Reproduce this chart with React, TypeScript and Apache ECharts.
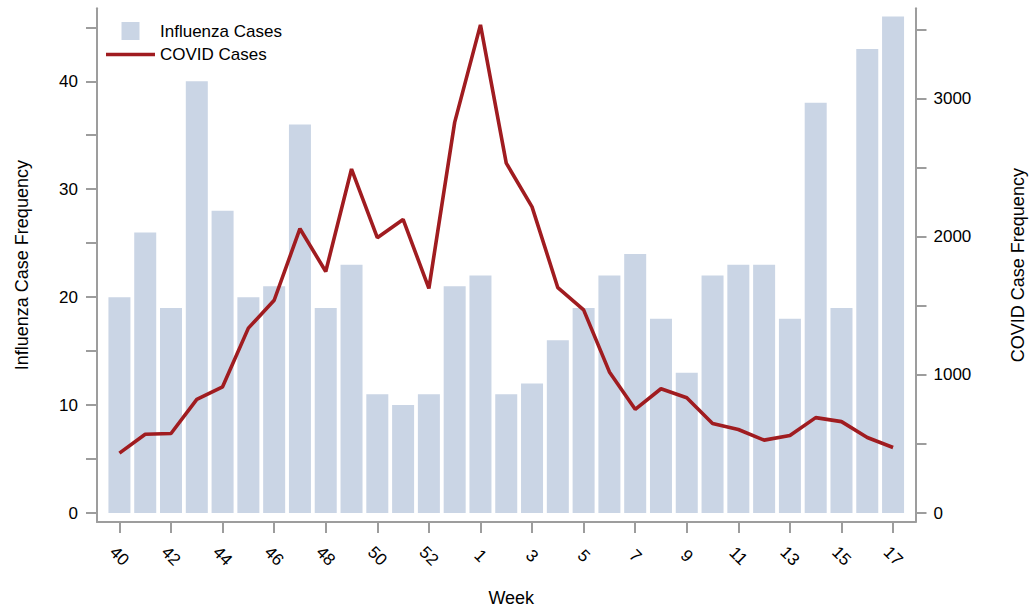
import React, { useEffect, useRef } from 'react';
import * as echarts from 'echarts';

// weekly counts, flu season week 40 .. week 17
const weeks = [
  '40', '41', '42', '43', '44', '45', '46', '47', '48', '49', '50', '51', '52', '53',
  '1', '2', '3', '4', '5', '6', '7', '8', '9', '10', '11', '12', '13', '14', '15', '16', '17',
];
const fluCases = [
  20, 26, 19, 40, 28, 20, 21, 36, 19, 23, 11, 10, 11, 21,
  22, 11, 12, 16, 19, 22, 24, 18, 13, 22, 23, 23, 18, 38, 19, 43, 46,
];
const covidCases = [
  434, 571, 576, 823, 914, 1339, 1541, 2059, 1749, 2491, 1994, 2126, 1627, 2829,
  3535, 2534, 2217, 1632, 1471, 1022, 751, 900, 835, 648, 605, 528, 562, 691, 662, 547, 475,
];

const weekTicks = ['40', '42', '44', '46', '48', '50', '52', '1', '3', '5', '7', '9', '11', '13', '15', '17'];
const fluTicks = [0, 5, 10, 15, 20, 25, 30, 35, 40, 45];
const fluLabels = [0, 10, 20, 30, 40];
const covidTicks = [0, 500, 1000, 1500, 2000, 2500, 3000, 3500];
const covidLabels = [0, 1000, 2000, 3000];

const FONT = "'Liberation Sans Narrow', 'Arial Narrow', 'Liberation Sans', Arial, sans-serif";
const AXIS_GRAY = '#9d9d9d';
const COVID_RED = '#a01c20';

const App: React.FC = () => {
  const chartRef = useRef<HTMLDivElement>(null);

  useEffect(() => {
    if (!chartRef.current) return;
    const chart = echarts.init(chartRef.current, null, { renderer: 'svg' });

    const tickIdx = weekTicks.map((w) => weeks.indexOf(w));

    const axisLine = { show: true, onZero: false, lineStyle: { color: AXIS_GRAY, width: 2 } };
    const axisTick = (values: number[]) => ({
      show: true,
      length: 11,
      customValues: values,
      lineStyle: { color: AXIS_GRAY, width: 2 },
    });
    const labelText = { fontFamily: FONT, fontSize: 17, color: '#000' };
    const nameText = { fontFamily: FONT, fontSize: 18, color: '#000' };

    const option = {
      animation: false,
      textStyle: { fontFamily: FONT },
      grid: { left: 97, right: 119.5, top: 8.3, bottom: 87 },
      legend: {
        orient: 'vertical',
        left: 101,
        top: 17,
        itemWidth: 49,
        itemHeight: 18,
        itemGap: 6,
        textStyle: { ...labelText },
        data: [
          { name: 'Influenza Cases', icon: 'path://M0,0H10V10H0Z' },
          { name: 'COVID Cases', icon: 'path://M0,0H49V3.6H0Z' },
        ],
      },
      xAxis: {
        type: 'value',
        min: -0.87,
        max: weeks.length - 1 + 0.87,
        name: 'Week',
        nameLocation: 'middle',
        nameGap: 67,
        nameTextStyle: { ...nameText, padding: [0, 0, 0, 10] },
        axisLine,
        axisTick: axisTick(tickIdx),
        splitLine: { show: false },
        axisLabel: {
          customValues: tickIdx,
          formatter: (v: number) => weeks[Math.round(v)],
          rotate: -45,
          align: 'center',
          verticalAlign: 'middle',
          margin: 34,
          ...labelText,
        },
      },
      yAxis: [
        {
          type: 'value',
          position: 'left',
          min: -0.83,
          max: 46.76,
          name: 'Influenza Case Frequency',
          nameLocation: 'middle',
          nameRotate: 90,
          nameGap: 66,
          nameTextStyle: nameText,
          axisLine,
          axisTick: axisTick(fluTicks),
          splitLine: { show: false },
          axisLabel: {
            customValues: fluLabels,
            margin: 19,
            ...labelText,
          },
        },
        {
          type: 'value',
          position: 'right',
          min: -64.8,
          max: 3655,
          name: 'COVID Case Frequency',
          nameLocation: 'middle',
          nameRotate: 90,
          nameGap: 93,
          nameTextStyle: nameText,
          axisLine,
          axisTick: axisTick(covidTicks),
          splitLine: { show: false },
          axisLabel: {
            customValues: covidLabels,
            formatter: (v: number) => String(v),
            margin: 18,
            ...labelText,
          },
        },
      ],
      series: [
        {
          name: 'Influenza Cases',
          type: 'bar',
          yAxisIndex: 0,
          barWidth: 22,
          itemStyle: { color: '#cad5e5' },
          data: fluCases.map((v, i) => [i, v]),
        },
        {
          name: 'COVID Cases',
          type: 'line',
          yAxisIndex: 1,
          symbol: 'none',
          lineStyle: { color: COVID_RED, width: 3.6 },
          itemStyle: { color: COVID_RED },
          z: 3,
          data: covidCases.map((v, i) => [i, v]),
        },
      ],
    };

    chart.setOption(option);

    return () => {
      chart.dispose();
    };
  }, []);

  return (
    <div
      ref={chartRef}
      style={{ position: 'fixed', left: 0, top: 0, width: '1035px', height: '612px', background: '#fff' }}
    />
  );
};

export default App;
